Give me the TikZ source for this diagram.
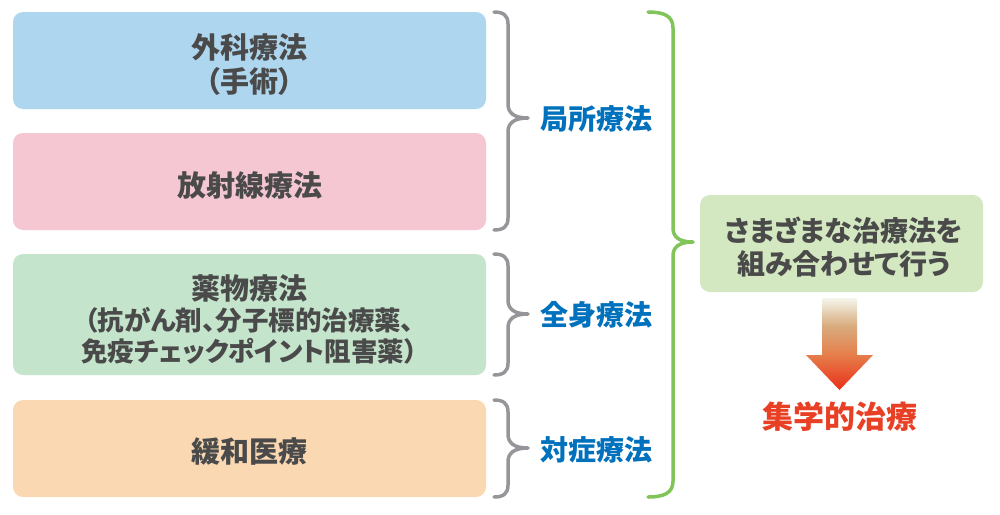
\documentclass[tikz,border=0pt]{standalone}
\usepackage{fontspec}
\newfontfamily\jp{Noto Sans CJK JP}[RawFeature=+palt]
\definecolor{boxblue}{RGB}{174,214,238}
\definecolor{boxpink}{RGB}{244,199,211}
\definecolor{boxgreen}{RGB}{197,228,204}
\definecolor{boxorange}{RGB}{250,217,178}
\definecolor{boxlime}{RGB}{211,232,193}
\definecolor{txtgray}{RGB}{74,74,74}
\definecolor{txtblue}{RGB}{0,113,188}
\definecolor{txtred}{RGB}{232,64,36}
\definecolor{bracegray}{RGB}{150,150,154}
\definecolor{bracegreen}{RGB}{128,196,90}
\definecolor{arA}{RGB}{232,48,24}
\definecolor{arB}{RGB}{230,125,75}
\definecolor{arC}{RGB}{216,172,126}
\definecolor{arD}{RGB}{244,246,236}
\pgfdeclareverticalshading{arrowshade}{100bp}{color(0bp)=(arA); color(25bp)=(arA); color(44bp)=(arB); color(60bp)=(arC); color(75bp)=(arD); color(100bp)=(arD)}
\begin{document}
\begin{tikzpicture}[x=1pt,y=-1pt,
  catbox/.style={rounded corners=10pt, minimum width=473pt, inner sep=0pt, draw=none},
  boxtxt/.style={font=\jp\bfseries\fontsize{29pt}{34pt}\selectfont, text=txtgray, align=center, inner sep=0pt},
  grouplabel/.style={font=\jp\bfseries\fontsize{28pt}{34pt}\selectfont, text=txtblue, inner sep=0pt},
  graybrace/.style={draw=bracegray, line width=3.5pt, line cap=round, line join=round},
  greenbrace/.style={draw=bracegreen, line width=3.5pt, line cap=round, line join=round}]
\useasboundingbox (0,0) rectangle (1000,514);
\fill[white] (0,0) rectangle (1000,514);

% left boxes
\node[catbox, fill=boxblue, minimum height=97pt] (b1) at (249.5,60.5) {};
\node[catbox, fill=boxpink, minimum height=97pt] (b2) at (249.5,181.5) {};
\node[catbox, fill=boxgreen, minimum height=121pt] (b3) at (249.5,314.5) {};
\node[catbox, fill=boxorange, minimum height=97pt] (b4) at (249.5,448.5) {};

\node[boxtxt] (t1) at (249.5,64.5) {外科療法\\（手術）};
\node[boxtxt] (t2) at (249.5,185) {放射線療法};
\node[boxtxt, font=\jp\bfseries\fontsize{26.5pt}{31pt}\selectfont] (t3) at (249.5,319) {{\fontsize{29pt}{34pt}\selectfont 薬物療法}\\（抗がん剤、分子標的治療薬、\\免疫チェックポイント阻害薬）};
\node[boxtxt] (t4) at (249.5,452) {緩和医療};

% gray braces
\draw[graybrace] (494,12) .. controls (503,12) and (508,15) .. (508,24) -- (508,104)
  .. controls (508,113) and (514,118) .. (528,118)
  .. controls (514,118) and (508,123) .. (508,132) -- (508,218)
  .. controls (508,227) and (503,230) .. (494,230);
\draw[graybrace] (494,254) .. controls (503,254) and (508,257) .. (508,266) -- (508,300)
  .. controls (508,309) and (514,314) .. (528,314)
  .. controls (514,314) and (508,319) .. (508,328) -- (508,363)
  .. controls (508,372) and (503,375) .. (494,375);
\draw[graybrace] (494,400) .. controls (503,400) and (508,403) .. (508,412) -- (508,434)
  .. controls (508,443) and (514,448) .. (528,448)
  .. controls (514,448) and (508,453) .. (508,462) -- (508,485)
  .. controls (508,494) and (503,497) .. (494,497);

% group labels
\node[grouplabel] (g1) at (596,119) {局所療法};
\node[grouplabel] (g2) at (596,315) {全身療法};
\node[grouplabel] (g3) at (596,450) {対症療法};

% green brace
\draw[greenbrace] (648,12) .. controls (664,12) and (673,16) .. (673,28) -- (673,228)
  .. controls (673,237) and (679,242) .. (693,242)
  .. controls (679,242) and (673,247) .. (673,256) -- (673,481)
  .. controls (673,493) and (664,497) .. (648,497);

% right box
\node[rounded corners=10pt, fill=boxlime, minimum width=283pt, minimum height=97pt, inner sep=0pt] (rb) at (841.5,243.5) {};
\node[boxtxt, font=\jp\bfseries\fontsize{28pt}{33pt}\selectfont] (rt) at (844,247) {さまざまな治療法を\\組み合わせて行う};

% arrow
\shade[shading=arrowshade]
  (822,298) -- (857,298) -- (857,355) -- (873,355) -- (839.5,390) -- (806,355) -- (822,355) -- cycle;

\node[font=\jp\bfseries\fontsize{31pt}{36pt}\selectfont, text=txtred, inner sep=0pt] (res) at (840,417) {集学的治療};
\end{tikzpicture}
\end{document}
